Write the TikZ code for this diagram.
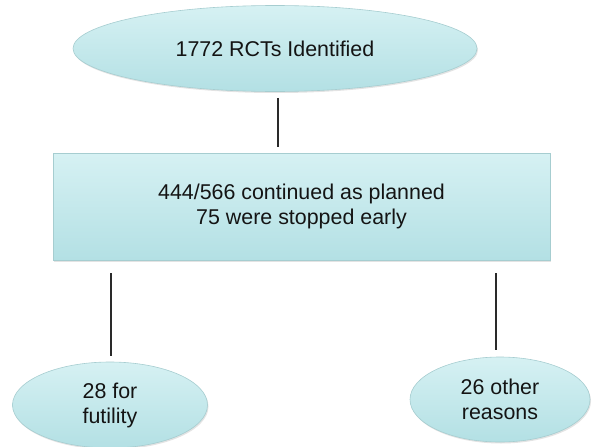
\documentclass[tikz,border=0pt]{standalone}
\usepackage{fontspec}
\setmainfont{Liberation Sans}
\usetikzlibrary{shapes.geometric,shadows}
\definecolor{boxtop}{HTML}{D6F1F3}
\definecolor{boxbot}{HTML}{B3E0E4}
\definecolor{boxline}{HTML}{A6CDD0}
\definecolor{linecol}{HTML}{2A2A2A}
\tikzset{
  flowshape/.style={draw=boxline, line width=0.6pt, top color=boxtop, bottom color=boxbot,
    drop shadow={opacity=0.22, shadow xshift=1pt, shadow yshift=-1.5pt},
    inner sep=0pt, align=center, font=\fontsize{21.4}{25}\selectfont, text=black!92},
  ovalbox/.style={flowshape, ellipse},
  rectbox/.style={flowshape, rectangle},
  conn/.style={draw=linecol, line width=1.4pt}
}
\begin{document}
\begin{tikzpicture}[x=1pt,y=-1pt]
\useasboundingbox (0,0) rectangle (592,447);
\node[ovalbox, minimum width=404pt, minimum height=86pt] (top) at (275,48.5) {1772 RCTs Identified};
\node[rectbox, minimum width=497pt, minimum height=107pt] (mid) at (301.5,206.5) {444/566 continued as planned\\75 were stopped early};
\node[ovalbox, minimum width=195pt, minimum height=86pt] (left) at (110,405) {28 for\\futility};
\node[ovalbox, minimum width=180pt, minimum height=85pt] (right) at (500,399.5) {26 other\\reasons};
\draw[conn, shorten <=6pt, shorten >=6pt] ([xshift=3pt]top.south) -- ([xshift=3pt]top.south |- mid.north);
\draw[conn, shorten <=13pt, shorten >=6pt] ([xshift=1pt]mid.south -| left.north) -- ([xshift=1pt]left.north);
\draw[conn, shorten <=13pt, shorten >=7pt] ([xshift=-4pt]mid.south -| right.north) -- ([xshift=-4pt]right.north);
\end{tikzpicture}
\end{document}
